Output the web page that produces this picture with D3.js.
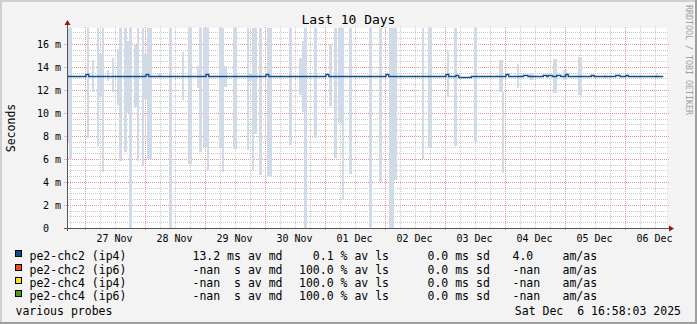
<!DOCTYPE html>
<html>
<head>
<meta charset="utf-8">
<script src="https://cdn.jsdelivr.net/npm/d3@7"></script>
<style>
  html, body { margin: 0; padding: 0; background: #f3f3f3; }
  svg { display: block; }
  text { font-family: "DejaVu Sans Mono", monospace; white-space: pre; }
</style>
</head>
<body>
<svg id="chart" width="697" height="324"></svg>
<script>
// ---- data -------------------------------------------------------------
const titleText = "Last 10 Days";
const yAxisTitle = "Seconds";
const endTime = new Date(2025, 11, 6, 16, 58, 3);
const spanHours = 240;

// y ticks (milliseconds) and their labels
const yTickValues = [0, 2, 4, 6, 8, 10, 12, 14, 16];
const yTickLabels = ["0  ", "2 m", "4 m", "6 m", "8 m", "10 m", "12 m", "14 m", "16 m"];
const yMax = 17.39;

// x labels: one per day, centred at noon
const dayLabels = ["27 Nov", "28 Nov", "29 Nov", "30 Nov", "01 Dec", "02 Dec", "03 Dec", "04 Dec", "05 Dec", "06 Dec"];
const dayNoons = dayLabels.map((d, i) => new Date(2025, 10, 27 + i, 12, 0, 0));

// smoke: [start hour, end hour, low ms, high ms]  (hours since window start)
const smokeBars = [
  [0.0, 0.6, 7.4, 19], [0.6, 2.0, 6.0, 19], [7.9, 8.8, 7.8, 19], [10.0, 10.8, 11.8, 14.6],
  [12.1, 12.9, 7.1, 19], [12.9, 14.8, 11.4, 15.1], [14.0, 14.8, 4.9, 19], [15.9, 16.9, 12.8, 13.7],
  [18.0, 18.8, 11.8, 14.8], [19.9, 20.8, 10.7, 15.6], [20.8, 22.0, 5.8, 19], [22.8, 24.1, 6.6, 19],
  [23.9, 24.9, 10.0, 16.3], [24.7, 26.0, 0, 19], [26.8, 28.7, 10.5, 15.9], [28.0, 28.8, 5.8, 19],
  [29.9, 30.8, 5.4, 19], [30.8, 32.1, 11.1, 15.1], [32.1, 34.0, 6.0, 19], [36.4, 37.9, 13.1, 13.4],
  [40.8, 42.1, 0, 19], [45.9, 46.8, 11.1, 15.3], [48.5, 49.9, 5.6, 19], [51.9, 52.8, 12.2, 14.1],
  [52.8, 54.1, 6.6, 19], [54.5, 56.1, 7.0, 19], [55.9, 56.8, 5.0, 19], [60.7, 62.0, 7.0, 19],
  [62.0, 62.8, 4.9, 19], [62.5, 63.9, 12.3, 14.1], [66.5, 67.9, 6.9, 19], [72.1, 72.8, 6.8, 19],
  [72.5, 73.9, 12.8, 13.5], [73.9, 75.9, 8.2, 19], [73.9, 74.8, 5.0, 19], [76.8, 78.1, 4.6, 19],
  [79.9, 81.9, 4.5, 19], [88.8, 90.1, 7.2, 19], [92.7, 94.3, 11.6, 14.8], [94.0, 94.8, 10.1, 16.3],
  [94.8, 96.1, 0, 19], [98.8, 100.1, 7.8, 19], [104.8, 106.0, 10.6, 15.9], [106.8, 108.1, 6.1, 19],
  [108.5, 109.9, 9.1, 19], [109.9, 110.8, 2.5, 19], [112.8, 114.1, 4.7, 19], [120.7, 122.0, 0.1, 19],
  [124.8, 125.9, 4.0, 19], [128.8, 132.1, 4.2, 19], [128.8, 130.8, 0, 19], [141.9, 142.8, 6.0, 19],
  [144.5, 146.1, 7.0, 19], [151.9, 152.8, 11.4, 15.4], [154.8, 156.1, 7.1, 19], [162.8, 163.9, 7.5, 19],
  [172.8, 174.5, 11.8, 14.6], [174.1, 174.8, 4.8, 11.8], [179.9, 180.8, 12.2, 14.3], [184.8, 186.8, 12.9, 13.5],
  [194.5, 195.9, 11.7, 14.7], [198.5, 199.9, 12.9, 13.7], [204.5, 205.9, 11.6, 14.9], [214.8, 216.1, 13.0, 13.3],
  [235.5, 236.5, 13.0, 13.5]
];

// median RTT, step changes: [hour, ms]
const medianSteps = [
  [0, 13.2], [7.6, 13.36], [8.7, 13.2], [31.6, 13.36], [32.7, 13.2], [55.6, 13.36], [56.7, 13.2],
  [79.6, 13.36], [80.7, 13.2], [103.6, 13.36], [104.7, 13.2], [127.6, 13.36], [128.7, 13.2],
  [151.6, 13.36], [152.7, 13.2], [155.6, 13.3], [156.7, 13.1], [161.7, 13.2], [175.6, 13.36], [176.7, 13.2],
  [182.5, 13.28], [184.4, 13.2], [190.5, 13.28], [191.9, 13.2], [192.5, 13.28], [194.1, 13.2],
  [195.9, 13.28], [197.5, 13.2], [199.5, 13.36], [200.5, 13.2], [209.7, 13.28], [210.8, 13.2],
  [219.5, 13.28], [221.2, 13.2], [223.5, 13.28], [224.5, 13.2], [238.5, 13.2]
];

// legend
const seriesNames = ["pe2-chc2 (ip4)", "pe2-chc2 (ip6)", "pe2-chc4 (ip4)", "pe2-chc4 (ip6)"];
const seriesColors = ["#0e4d8d", "#f24a1c", "#ffdd22", "#4f9a14"];
const medianText = ["13.2 ms av md", "-nan  s av md", "-nan  s av md", "-nan  s av md"];
const lossText = ["  0.1 % av ls", "100.0 % av ls", "100.0 % av ls", "100.0 % av ls"];
const sdText = ["0.0 ms sd", "0.0 ms sd", "0.0 ms sd", "0.0 ms sd"];
const amasValue = ["4.0", "-nan", "-nan", "-nan"];
const footerLeft = "various probes";
const footerRight = "Sat Dec  6 16:58:03 2025";
const watermark = "RRDTOOL / TOBI OETIKER";

// ---- drawing ------------------------------------------------------------
const W = 697, H = 324;
const plot = { left: 67, right: 667, top: 28, bottom: 228 };
const startTime = new Date(+endTime - spanHours * 3600000);
const at = h => new Date(+startTime + h * 3600000);

const x = d3.scaleTime().domain([startTime, endTime]).range([plot.left, plot.right]);
const y = d3.scaleLinear().domain([0, yMax]).range([plot.bottom, plot.top]);

const svg = d3.select("#chart");

// background and bevelled frame
svg.append("rect").attr("width", W).attr("height", H).attr("fill", "#f3f3f3");
svg.append("path").attr("d", `M0,${H} V0 H${W}`).attr("fill", "none")
   .attr("stroke", "#cfcfcf").attr("stroke-width", 4);
svg.append("path").attr("d", `M0,${H} H${W} V0`).attr("fill", "none")
   .attr("stroke", "#9e9e9e").attr("stroke-width", 4);

// canvas
svg.append("rect").attr("x", plot.left).attr("y", plot.top)
   .attr("width", plot.right - plot.left).attr("height", plot.bottom - plot.top)
   .attr("fill", "#ffffff");

const grid = svg.append("g").attr("shape-rendering", "crispEdges");

// horizontal grid: minor every 0.5 ms, major every 2 ms
const minorY = d3.range(0.5, yMax, 0.5).filter(v => v % 2 !== 0);
grid.selectAll(".hminor").data(minorY).join("line")
  .attr("x1", plot.left).attr("x2", plot.right + 1)
  .attr("y1", d => Math.round(y(d)) + 0.5).attr("y2", d => Math.round(y(d)) + 0.5)
  .attr("stroke", "#c9c9c9").attr("stroke-dasharray", "1,1");

// vertical grid: every 6 hours, midnight in red
const sixHours = d3.timeHour.every(6).range(startTime, endTime);
const minorX = sixHours.filter(d => d.getHours() !== 0);
const majorX = sixHours.filter(d => d.getHours() === 0);
grid.selectAll(".vminor").data(minorX).join("line")
  .attr("x1", d => Math.round(x(d)) + 0.5).attr("x2", d => Math.round(x(d)) + 0.5)
  .attr("y1", plot.top - 1).attr("y2", plot.bottom)
  .attr("stroke", "#c9c9c9").attr("stroke-dasharray", "1,1");

grid.selectAll(".hmajor").data(yTickValues.filter(v => v > 0)).join("line")
  .attr("x1", plot.left - 3).attr("x2", plot.right + 3)
  .attr("y1", d => Math.round(y(d)) + 0.5).attr("y2", d => Math.round(y(d)) + 0.5)
  .attr("stroke", "#e49a9a").attr("stroke-dasharray", "1,1");
grid.selectAll(".vmajor").data(majorX).join("line")
  .attr("x1", d => Math.round(x(d)) + 0.5).attr("x2", d => Math.round(x(d)) + 0.5)
  .attr("y1", plot.top - 1).attr("y2", plot.bottom + 3)
  .attr("stroke", "#e49a9a").attr("stroke-dasharray", "1,1");

// smoke
svg.append("clipPath").attr("id", "plotClip").append("rect")
  .attr("x", plot.left).attr("y", plot.top)
  .attr("width", plot.right - plot.left).attr("height", plot.bottom - plot.top);

svg.append("g").attr("clip-path", "url(#plotClip)").attr("shape-rendering", "crispEdges")
  .selectAll("rect").data(smokeBars).join("rect")
  .attr("x", d => Math.round(x(at(d[0]))))
  .attr("width", d => Math.max(1, Math.round(x(at(d[1]))) - Math.round(x(at(d[0])))))
  .attr("y", d => Math.round(y(d[3])))
  .attr("height", d => Math.round(y(d[2])) - Math.round(y(d[3])))
  .attr("fill", "#d0dbe7");

// median line
const medianLine = d3.line()
  .x(d => x(at(d[0])))
  .y(d => Math.round(y(d[1])) + 0.5)
  .curve(d3.curveStepAfter);
svg.append("path").datum(medianSteps)
  .attr("d", medianLine)
  .attr("fill", "none").attr("stroke", seriesColors[0]).attr("stroke-width", 1.3);

// axes
const axisColor = "#555555";
svg.append("line").attr("x1", plot.left + 0.5).attr("x2", plot.left + 0.5)
  .attr("y1", plot.bottom + 3).attr("y2", plot.top - 5)
  .attr("stroke", axisColor).attr("shape-rendering", "crispEdges");
svg.append("line").attr("x1", plot.left - 3).attr("x2", plot.right + 4)
  .attr("y1", plot.bottom + 0.5).attr("y2", plot.bottom + 0.5)
  .attr("stroke", axisColor).attr("shape-rendering", "crispEdges");
svg.append("path")
  .attr("d", `M${plot.left - 2.5},${plot.top - 3} L${plot.left + 3.5},${plot.top - 3} L${plot.left + 0.5},${plot.top - 8} Z`)
  .attr("fill", "#a01010");
svg.append("path")
  .attr("d", `M${plot.right + 2},${plot.bottom - 2.5} L${plot.right + 2},${plot.bottom + 3.5} L${plot.right + 7},${plot.bottom + 0.5} Z`)
  .attr("fill", "#a01010");

// y tick labels
svg.append("g").selectAll("text").data(yTickValues).join("text")
  .attr("x", 61).attr("y", d => y(d)).attr("dy", "0.36em")
  .attr("text-anchor", "end").attr("font-size", 10).attr("fill", "#000")
  .text((d, i) => yTickLabels[i]);

// x labels
svg.append("g").selectAll("text").data(dayNoons).join("text")
  .attr("x", d => x(d)).attr("y", 241.5)
  .attr("text-anchor", "middle").attr("font-size", 10).attr("fill", "#000")
  .text((d, i) => dayLabels[i]);

// title and axis title
svg.append("text").attr("x", 348.5).attr("y", 23.5).attr("text-anchor", "middle")
  .attr("font-size", 13).attr("fill", "#000").text(titleText);
svg.append("text").attr("transform", "translate(15,128) rotate(-90)")
  .attr("text-anchor", "middle").attr("font-size", 11.5).attr("fill", "#000").text(yAxisTitle);
svg.append("text").attr("transform", "translate(685.5,5) rotate(90)")
  .attr("text-anchor", "start").attr("font-size", 8.3).attr("fill", "#a0a0a0").text(watermark);

// legend
const rowBase = [260.2, 273.5, 286.8, 300.1];
const legend = svg.append("g").attr("font-size", 11.5).attr("fill", "#000");
seriesNames.forEach((name, i) => {
  const by = rowBase[i];
  legend.append("rect").attr("x", 15.5).attr("y", by - 9.5).attr("width", 6).attr("height", 6)
    .attr("fill", seriesColors[i]).attr("stroke", "#000").attr("stroke-width", 1)
    .attr("shape-rendering", "crispEdges");
  legend.append("text").attr("x", 29.5).attr("y", by).text(name);
  legend.append("text").attr("x", 192.5).attr("y", by).text(medianText[i]);
  legend.append("text").attr("x", 299).attr("y", by).text(lossText[i]);
  legend.append("text").attr("x", 427.5).attr("y", by).text(sdText[i]);
  legend.append("text").attr("x", 512.5).attr("y", by).text(amasValue[i]);
  legend.append("text").attr("x", 562.5).attr("y", by).text("am/as");
});
legend.append("text").attr("x", 15.5).attr("y", 314.5).text(footerLeft);
legend.append("text").attr("x", 681).attr("y", 314.5).attr("text-anchor", "end").text(footerRight);
</script>
</body>
</html>
